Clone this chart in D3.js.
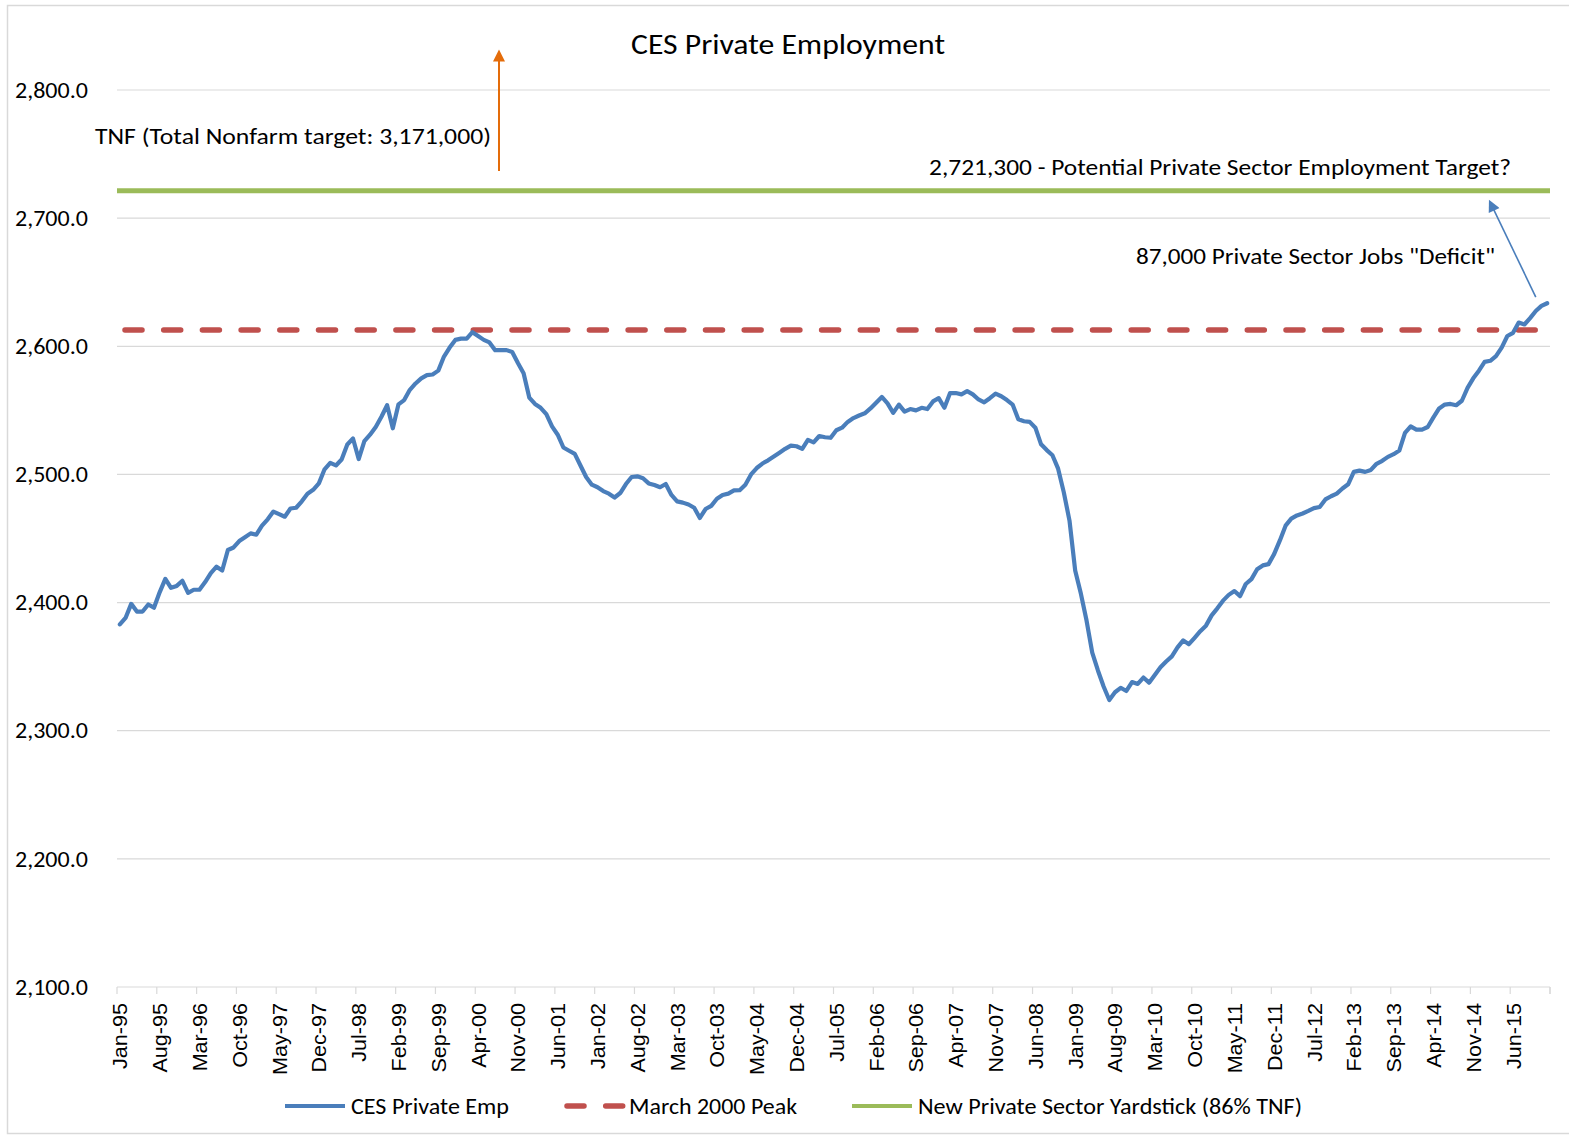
<!DOCTYPE html>
<html>
<head>
<meta charset="utf-8">
<script src="https://cdn.jsdelivr.net/npm/d3@7"></script>
<style>
  body { margin: 0; background: #fff; }
  svg text { font-family: Carlito, Calibri, "Liberation Sans Narrow", "Open Sans", sans-serif; fill: #000; }
</style>
</head>
<body>
<div id="chart"></div>
<script>
// monthly categories Jan-95 .. Dec-15
const months = d3.timeMonth.range(new Date(1995, 0, 1), new Date(2016, 0, 1));

// CES private employment (thousands)
const privateEmp = [
  2383, 2388, 2399, 2393, 2393, 2398.5, 2396, 2408, 2418.5, 2411.5, 2413, 2417,
  2407.6, 2410, 2410, 2416, 2423, 2428, 2425, 2441, 2443, 2448, 2451, 2454,
  2453, 2460, 2465, 2471, 2469, 2467, 2473.4, 2474, 2479, 2485, 2488, 2493,
  2504, 2509, 2507, 2511.7, 2523.4, 2528, 2512, 2526, 2531, 2537, 2545, 2554,
  2536, 2554.7, 2558, 2566, 2571, 2575, 2577.5, 2578, 2581, 2592, 2599, 2605,
  2606, 2606, 2611, 2608, 2605, 2603, 2597, 2597, 2597, 2595.5, 2587, 2579,
  2560, 2555, 2552, 2547, 2537.5, 2531, 2521, 2518.5, 2516, 2507, 2498, 2492,
  2490, 2487, 2485, 2482, 2485.5, 2492.5, 2498, 2498.5, 2497, 2493, 2491.7, 2490,
  2492.5, 2484, 2479, 2478, 2476.5, 2474, 2466, 2473, 2475.5, 2481, 2484, 2485,
  2487.5, 2487.7, 2492, 2500, 2505, 2508.5, 2511, 2514, 2517, 2520, 2522.5, 2522,
  2520, 2527, 2525, 2530, 2529, 2528.6, 2534.5, 2536.5, 2541, 2544, 2546, 2547.7,
  2551.5, 2556, 2560.5, 2555.5, 2548, 2554.5, 2549, 2551, 2550, 2552, 2551, 2557,
  2559.5, 2552, 2563.5, 2563.5, 2562.5, 2565, 2562.5, 2558.5, 2556.3, 2559.5, 2563, 2561,
  2558, 2554.5, 2543, 2541.5, 2541, 2536.5, 2523.5, 2519, 2515, 2504.5, 2486, 2464,
  2425, 2407, 2386, 2361, 2347, 2334.5, 2324, 2330, 2333.5, 2331, 2338, 2336.5,
  2341.5, 2337.5, 2343.5, 2349.5, 2354, 2358, 2365, 2370.5, 2367.5, 2372.5, 2377.7, 2382,
  2390, 2395.5, 2401.5, 2406, 2409, 2405, 2414.5, 2418.3, 2426, 2429, 2430, 2438,
  2448.5, 2460, 2465.5, 2468, 2469.5, 2471.5, 2473.7, 2474.6, 2480.5, 2483, 2485, 2489,
  2492.3, 2502, 2503, 2502, 2503.5, 2508.3, 2510.6, 2513.7, 2515.8, 2518.6, 2532.5, 2537.5,
  2535, 2535, 2537, 2544.5, 2551.5, 2554.5, 2555, 2554, 2557.5, 2567.5, 2575, 2581,
  2587.8, 2588.7, 2592.3, 2599, 2608, 2610.5, 2618.5, 2617, 2622, 2627.5, 2631.5, 2633.6
];

const march2000Peak = 2612.7;
const yardstick = 2721.3;
const yTicks = [2100, 2200, 2300, 2400, 2500, 2600, 2700, 2800];
const labelEvery = 7;

const seriesNames = ["CES Private Emp", "March 2000 Peak", "New Private Sector Yardstick (86% TNF)"];
const colors = { emp: "#4a7ebb", peak: "#c0504d", yard: "#9bbb59", tnf: "#e46c0a" };

const width = 1569, height = 1137;
const margin = { top: 90, right: 19, bottom: 150, left: 117 };

const svg = d3.select("#chart").append("svg")
  .attr("width", width)
  .attr("height", height);

// outer chart border
svg.append("rect")
  .attr("x", 7.5).attr("y", 5.5)
  .attr("width", width - 6).attr("height", height - 9)
  .attr("fill", "none").attr("stroke", "#d9d9d9").attr("stroke-width", 1.5);

const x = d3.scaleBand()
  .domain(d3.range(months.length))
  .range([margin.left, width - margin.right])
  .padding(0);

const y = d3.scaleLinear()
  .domain([2100, 2800])
  .range([height - margin.bottom, margin.top]);

const fmtMonth = d3.timeFormat("%b-%y");
const cx = i => x(i) + x.bandwidth() / 2;

// the source text is a bit wider than Carlito, so stretch it to the measured width
function stretched(sel, len) {
  sel.attr("textLength", len).attr("lengthAdjust", "spacingAndGlyphs");
  return sel;
}

// gridlines
svg.append("g")
  .selectAll("line")
  .data(yTicks)
  .join("line")
    .attr("x1", margin.left).attr("x2", width - margin.right)
    .attr("y1", d => y(d)).attr("y2", d => y(d))
    .attr("stroke", "#d9d9d9").attr("stroke-width", 1.2);

// y axis labels
svg.append("g")
  .selectAll("text")
  .data(yTicks)
  .join("text")
    .attr("x", 88)
    .attr("y", d => y(d))
    .attr("dy", "0.35em")
    .attr("text-anchor", "end")
    .attr("font-size", 22)
    .attr("textLength", 73)
    .attr("lengthAdjust", "spacingAndGlyphs")
    .text(d3.format(",.1f"));

// x axis tick marks, every 7 months
const tickIdx = d3.range(0, months.length + 1, labelEvery).concat([months.length]);
svg.append("g")
  .selectAll("line")
  .data(tickIdx)
  .join("line")
    .attr("x1", d => margin.left + d * x.bandwidth())
    .attr("x2", d => margin.left + d * x.bandwidth())
    .attr("y1", y(2100)).attr("y2", y(2100) + 7)
    .attr("stroke", "#d9d9d9").attr("stroke-width", 1.2);

// x axis labels, rotated
svg.append("g")
  .selectAll("text")
  .data(d3.range(0, months.length, labelEvery))
  .join("text")
    .attr("transform", i => `translate(${cx(i) + 7.5},${y(2100) + 16}) rotate(-90) scale(1.08,1)`)
    .attr("text-anchor", "end")
    .attr("font-size", 20)
    .style("font-family", "'Liberation Sans', Arial, sans-serif")
    .text(i => fmtMonth(months[i]));

// yardstick and peak lines
svg.append("line")
  .attr("x1", margin.left).attr("x2", width - margin.right)
  .attr("y1", y(yardstick)).attr("y2", y(yardstick))
  .attr("stroke", colors.yard).attr("stroke-width", 5);

svg.append("line")
  .attr("x1", margin.left + 8).attr("x2", width - margin.right)
  .attr("y1", y(march2000Peak)).attr("y2", y(march2000Peak))
  .attr("stroke", colors.peak).attr("stroke-width", 5.5)
  .attr("stroke-linecap", "round")
  .attr("stroke-dasharray", "17 21.7");

// main series
const line = d3.line()
  .x((d, i) => cx(i))
  .y(d => y(d));

svg.append("path")
  .datum(privateEmp)
  .attr("fill", "none")
  .attr("stroke", colors.emp)
  .attr("stroke-width", 4.2)
  .attr("stroke-linejoin", "round")
  .attr("stroke-linecap", "round")
  .attr("d", line);

// title
svg.append("text")
  .attr("x", 631).attr("y", 54)
  .attr("font-size", 28)
  .call(stretched, 314)
  .text("CES Private Employment");

// arrows
const defs = svg.append("defs");
function marker(id, color, w, h) {
  defs.append("marker")
    .attr("id", id)
    .attr("viewBox", "0 0 10 10")
    .attr("refX", 8).attr("refY", 5)
    .attr("markerUnits", "userSpaceOnUse")
    .attr("markerWidth", w).attr("markerHeight", h)
    .attr("orient", "auto")
    .append("path")
      .attr("d", "M0,0 L10,5 L0,10 Z")
      .attr("fill", color);
}
marker("arrOrange", colors.tnf, 14, 12);
marker("arrBlue", colors.emp, 14, 12);

svg.append("line")
  .attr("x1", 499).attr("y1", 171)
  .attr("x2", 499).attr("y2", 52)
  .attr("stroke", colors.tnf).attr("stroke-width", 2)
  .attr("marker-end", "url(#arrOrange)");

svg.append("line")
  .attr("x1", cx(months.length - 3)).attr("y1", y(privateEmp[months.length - 3]) - 14)
  .attr("x2", 1490).attr("y2", y(yardstick) + 11)
  .attr("stroke", colors.emp).attr("stroke-width", 1.6)
  .attr("marker-end", "url(#arrBlue)");

// annotation text
svg.append("text")
  .attr("x", 95).attr("y", 144)
  .attr("font-size", 23)
  .call(stretched, 396)
  .text("TNF (Total Nonfarm target: 3,171,000)");

svg.append("text")
  .attr("x", 929).attr("y", 175)
  .attr("font-size", 23)
  .call(stretched, 582)
  .text("2,721,300 - Potential Private Sector Employment Target?");

svg.append("text")
  .attr("x", 1136).attr("y", 264)
  .attr("font-size", 23)
  .call(stretched, 359)
  .text("87,000 Private Sector Jobs \"Deficit\"");

// legend
const legend = svg.append("g").attr("transform", "translate(0,1106)");
const legendItems = [
  { name: seriesNames[0], color: colors.emp, x: 285, dash: null, w: 4, len: 158 },
  { name: seriesNames[1], color: colors.peak, x: 563, dash: "17 21.7", w: 5.5, len: 168 },
  { name: seriesNames[2], color: colors.yard, x: 852, dash: null, w: 4, len: 384 }
];
const li = legend.selectAll("g").data(legendItems).join("g")
  .attr("transform", d => `translate(${d.x},0)`);
li.append("line")
  .attr("x1", d => d.dash ? 4 : 0).attr("x2", 60)
  .attr("stroke", d => d.color)
  .attr("stroke-width", d => d.w)
  .attr("stroke-linecap", d => d.dash ? "round" : "butt")
  .attr("stroke-dasharray", d => d.dash);
li.append("text")
  .attr("x", 66).attr("dy", "0.35em")
  .attr("font-size", 22)
  .attr("textLength", d => d.len)
  .attr("lengthAdjust", "spacingAndGlyphs")
  .text(d => d.name);
</script>
</body>
</html>
